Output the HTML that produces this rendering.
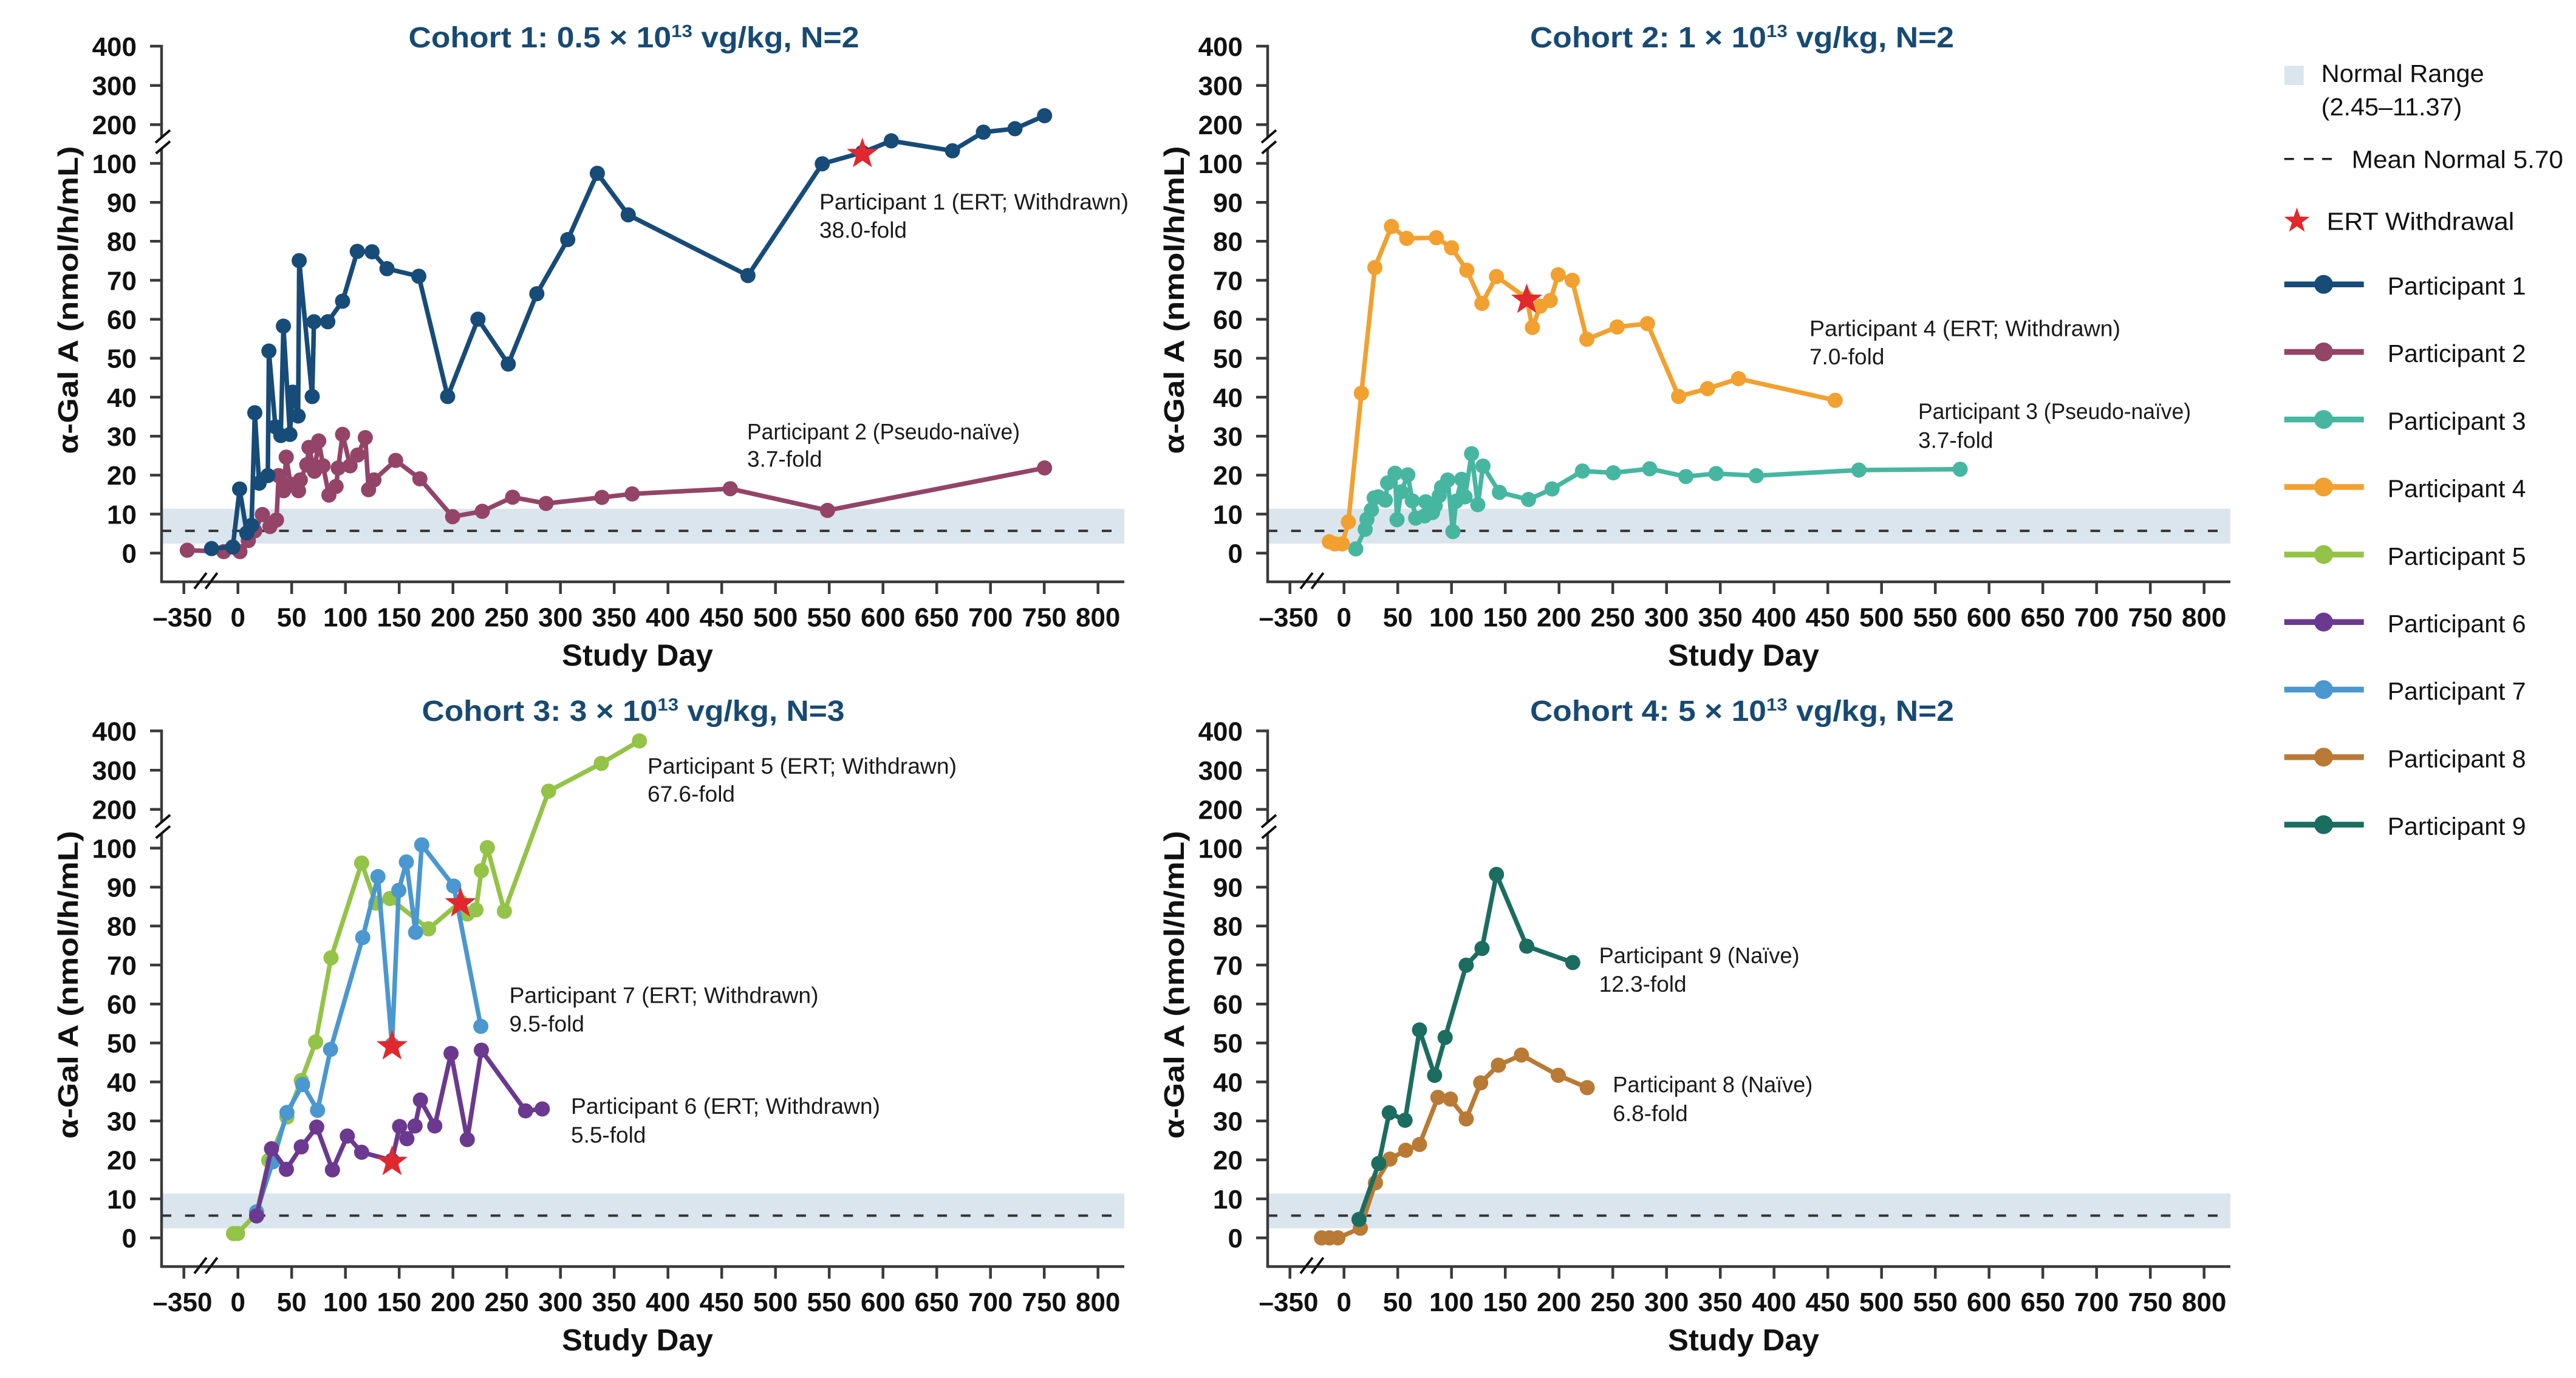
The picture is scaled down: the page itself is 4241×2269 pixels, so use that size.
<!DOCTYPE html>
<html>
<head>
<meta charset="utf-8">
<style>
html,body{margin:0;padding:0;background:#ffffff;}
svg{display:block;}
</style>
</head>
<body>
<svg xmlns="http://www.w3.org/2000/svg" width="4241" height="2269" viewBox="0 0 4241 2269" font-family="'Liberation Sans', Arial, sans-serif">
<defs>
  <marker id="mP1" viewBox="-16 -16 32 32" refX="0" refY="0" markerWidth="32" markerHeight="32" markerUnits="userSpaceOnUse"><circle r="12.5" fill="#174b78"/></marker>
  <marker id="mP2" viewBox="-16 -16 32 32" refX="0" refY="0" markerWidth="32" markerHeight="32" markerUnits="userSpaceOnUse"><circle r="12.5" fill="#934467"/></marker>
  <marker id="mP3" viewBox="-16 -16 32 32" refX="0" refY="0" markerWidth="32" markerHeight="32" markerUnits="userSpaceOnUse"><circle r="12.5" fill="#47b6a1"/></marker>
  <marker id="mP4" viewBox="-16 -16 32 32" refX="0" refY="0" markerWidth="32" markerHeight="32" markerUnits="userSpaceOnUse"><circle r="12.5" fill="#f2a02f"/></marker>
  <marker id="mP5" viewBox="-16 -16 32 32" refX="0" refY="0" markerWidth="32" markerHeight="32" markerUnits="userSpaceOnUse"><circle r="12.5" fill="#93c347"/></marker>
  <marker id="mP6" viewBox="-16 -16 32 32" refX="0" refY="0" markerWidth="32" markerHeight="32" markerUnits="userSpaceOnUse"><circle r="12.5" fill="#6b398f"/></marker>
  <marker id="mP7" viewBox="-16 -16 32 32" refX="0" refY="0" markerWidth="32" markerHeight="32" markerUnits="userSpaceOnUse"><circle r="12.5" fill="#4b97cf"/></marker>
  <marker id="mP8" viewBox="-16 -16 32 32" refX="0" refY="0" markerWidth="32" markerHeight="32" markerUnits="userSpaceOnUse"><circle r="12.5" fill="#b87a34"/></marker>
  <marker id="mP9" viewBox="-16 -16 32 32" refX="0" refY="0" markerWidth="32" markerHeight="32" markerUnits="userSpaceOnUse"><circle r="12.5" fill="#1b6d60"/></marker>
  <polygon id="star" fill="#e1282d" points="0,-27 6.35,-8.74 25.68,-8.34 10.27,3.34 15.87,21.84 0,10.8 -15.87,21.84 -10.27,3.34 -25.68,-8.34 -6.35,-8.74"/>
  <g id="ax">
    <rect x="266" y="837.7" width="1585" height="57.3" fill="#dbe5ee"/>
    <path d="M266 874.1 H1851" stroke="#333333" stroke-width="4" stroke-dasharray="16 22.7" fill="none"/>
    <path d="M247 76 H266 V226 M266 245 V958 H1851" stroke="#3a3a3a" stroke-width="4.5" fill="none" stroke-linejoin="miter"/>
    <path d="M247 140.7 H266 M247 205.3 H266 M247 269 H266 M247 333.2 H266 M247 397.3 H266 M247 461.5 H266 M247 525.7 H266 M247 589.9 H266 M247 654 H266 M247 718.2 H266 M247 782.4 H266 M247 846.5 H266 M247 910.7 H266" stroke="#3a3a3a" stroke-width="4.5" fill="none"/>
    <path d="M302.7 958 V978 M391.7 958 V978 M480.2 958 V978 M568.7 958 V978 M657.2 958 V978 M745.7 958 V978 M834.2 958 V978 M922.7 958 V978 M1011.2 958 V978 M1099.7 958 V978 M1188.2 958 V978 M1276.7 958 V978 M1365.2 958 V978 M1453.7 958 V978 M1542.2 958 V978 M1630.7 958 V978 M1719.2 958 V978 M1807.7 958 V978" stroke="#3a3a3a" stroke-width="4.5" fill="none"/>
    <path d="M256 235 L280 214.3 M256.7 252.7 L280 232.7 M320 969.3 L340 943.3 M338.3 969.3 L357.7 943.3" stroke="#111111" stroke-width="4" fill="none"/>
  </g>
</defs>

<!-- panel frames -->
<use href="#ax" x="0" y="0"/>
<use href="#ax" x="1821" y="0"/>
<use href="#ax" x="0" y="1127.5"/>
<use href="#ax" x="1821" y="1127.5"/>

<!-- panel texts (tick labels, axis titles) -->
<g transform="translate(0,0)">
  <g font-size="44" font-weight="bold" fill="#111111" text-anchor="end">
    <text x="225" y="91.8">400</text><text x="225" y="156.5">300</text><text x="225" y="221.1">200</text>
    <text x="225" y="284.8">100</text><text x="225" y="349">90</text><text x="225" y="413.1">80</text>
    <text x="225" y="477.3">70</text><text x="225" y="541.5">60</text><text x="225" y="605.7">50</text>
    <text x="225" y="669.8">40</text><text x="225" y="734">30</text><text x="225" y="798.2">20</text>
    <text x="225" y="862.3">10</text><text x="225" y="926.5">0</text>
  </g>
  <g font-size="44" font-weight="bold" fill="#111111" text-anchor="middle">
    <text x="300.5" y="1031.5">–350</text><text x="391.7" y="1031.5">0</text><text x="480.2" y="1031.5">50</text>
    <text x="568.7" y="1031.5">100</text><text x="657.2" y="1031.5">150</text><text x="745.7" y="1031.5">200</text>
    <text x="834.2" y="1031.5">250</text><text x="922.7" y="1031.5">300</text><text x="1011.2" y="1031.5">350</text>
    <text x="1099.7" y="1031.5">400</text><text x="1188.2" y="1031.5">450</text><text x="1276.7" y="1031.5">500</text>
    <text x="1365.2" y="1031.5">550</text><text x="1453.7" y="1031.5">600</text><text x="1542.2" y="1031.5">650</text>
    <text x="1630.7" y="1031.5">700</text><text x="1719.2" y="1031.5">750</text><text x="1807.7" y="1031.5">800</text>
  </g>
  <text x="1049.5" y="1096" font-size="50" font-weight="bold" fill="#111111" text-anchor="middle" textLength="249" lengthAdjust="spacingAndGlyphs">Study Day</text>
  <text transform="translate(112,494) rotate(-90)" font-size="46" font-weight="bold" fill="#111111" text-anchor="middle" dominant-baseline="central" textLength="507" lengthAdjust="spacingAndGlyphs">α-Gal A (nmol/h/mL)</text>
</g>

<g transform="translate(1821,0)">
  <g font-size="44" font-weight="bold" fill="#111111" text-anchor="end">
    <text x="225" y="91.8">400</text><text x="225" y="156.5">300</text><text x="225" y="221.1">200</text>
    <text x="225" y="284.8">100</text><text x="225" y="349">90</text><text x="225" y="413.1">80</text>
    <text x="225" y="477.3">70</text><text x="225" y="541.5">60</text><text x="225" y="605.7">50</text>
    <text x="225" y="669.8">40</text><text x="225" y="734">30</text><text x="225" y="798.2">20</text>
    <text x="225" y="862.3">10</text><text x="225" y="926.5">0</text>
  </g>
  <g font-size="44" font-weight="bold" fill="#111111" text-anchor="middle">
    <text x="300.5" y="1031.5">–350</text><text x="391.7" y="1031.5">0</text><text x="480.2" y="1031.5">50</text>
    <text x="568.7" y="1031.5">100</text><text x="657.2" y="1031.5">150</text><text x="745.7" y="1031.5">200</text>
    <text x="834.2" y="1031.5">250</text><text x="922.7" y="1031.5">300</text><text x="1011.2" y="1031.5">350</text>
    <text x="1099.7" y="1031.5">400</text><text x="1188.2" y="1031.5">450</text><text x="1276.7" y="1031.5">500</text>
    <text x="1365.2" y="1031.5">550</text><text x="1453.7" y="1031.5">600</text><text x="1542.2" y="1031.5">650</text>
    <text x="1630.7" y="1031.5">700</text><text x="1719.2" y="1031.5">750</text><text x="1807.7" y="1031.5">800</text>
  </g>
  <text x="1049.5" y="1096" font-size="50" font-weight="bold" fill="#111111" text-anchor="middle" textLength="249" lengthAdjust="spacingAndGlyphs">Study Day</text>
  <text transform="translate(112,494) rotate(-90)" font-size="46" font-weight="bold" fill="#111111" text-anchor="middle" dominant-baseline="central" textLength="507" lengthAdjust="spacingAndGlyphs">α-Gal A (nmol/h/mL)</text>
</g>

<g transform="translate(0,1127.5)">
  <g font-size="44" font-weight="bold" fill="#111111" text-anchor="end">
    <text x="225" y="91.8">400</text><text x="225" y="156.5">300</text><text x="225" y="221.1">200</text>
    <text x="225" y="284.8">100</text><text x="225" y="349">90</text><text x="225" y="413.1">80</text>
    <text x="225" y="477.3">70</text><text x="225" y="541.5">60</text><text x="225" y="605.7">50</text>
    <text x="225" y="669.8">40</text><text x="225" y="734">30</text><text x="225" y="798.2">20</text>
    <text x="225" y="862.3">10</text><text x="225" y="926.5">0</text>
  </g>
  <g font-size="44" font-weight="bold" fill="#111111" text-anchor="middle">
    <text x="300.5" y="1031.5">–350</text><text x="391.7" y="1031.5">0</text><text x="480.2" y="1031.5">50</text>
    <text x="568.7" y="1031.5">100</text><text x="657.2" y="1031.5">150</text><text x="745.7" y="1031.5">200</text>
    <text x="834.2" y="1031.5">250</text><text x="922.7" y="1031.5">300</text><text x="1011.2" y="1031.5">350</text>
    <text x="1099.7" y="1031.5">400</text><text x="1188.2" y="1031.5">450</text><text x="1276.7" y="1031.5">500</text>
    <text x="1365.2" y="1031.5">550</text><text x="1453.7" y="1031.5">600</text><text x="1542.2" y="1031.5">650</text>
    <text x="1630.7" y="1031.5">700</text><text x="1719.2" y="1031.5">750</text><text x="1807.7" y="1031.5">800</text>
  </g>
  <text x="1049.5" y="1096" font-size="50" font-weight="bold" fill="#111111" text-anchor="middle" textLength="249" lengthAdjust="spacingAndGlyphs">Study Day</text>
  <text transform="translate(112,494) rotate(-90)" font-size="46" font-weight="bold" fill="#111111" text-anchor="middle" dominant-baseline="central" textLength="507" lengthAdjust="spacingAndGlyphs">α-Gal A (nmol/h/mL)</text>
</g>

<g transform="translate(1821,1127.5)">
  <g font-size="44" font-weight="bold" fill="#111111" text-anchor="end">
    <text x="225" y="91.8">400</text><text x="225" y="156.5">300</text><text x="225" y="221.1">200</text>
    <text x="225" y="284.8">100</text><text x="225" y="349">90</text><text x="225" y="413.1">80</text>
    <text x="225" y="477.3">70</text><text x="225" y="541.5">60</text><text x="225" y="605.7">50</text>
    <text x="225" y="669.8">40</text><text x="225" y="734">30</text><text x="225" y="798.2">20</text>
    <text x="225" y="862.3">10</text><text x="225" y="926.5">0</text>
  </g>
  <g font-size="44" font-weight="bold" fill="#111111" text-anchor="middle">
    <text x="300.5" y="1031.5">–350</text><text x="391.7" y="1031.5">0</text><text x="480.2" y="1031.5">50</text>
    <text x="568.7" y="1031.5">100</text><text x="657.2" y="1031.5">150</text><text x="745.7" y="1031.5">200</text>
    <text x="834.2" y="1031.5">250</text><text x="922.7" y="1031.5">300</text><text x="1011.2" y="1031.5">350</text>
    <text x="1099.7" y="1031.5">400</text><text x="1188.2" y="1031.5">450</text><text x="1276.7" y="1031.5">500</text>
    <text x="1365.2" y="1031.5">550</text><text x="1453.7" y="1031.5">600</text><text x="1542.2" y="1031.5">650</text>
    <text x="1630.7" y="1031.5">700</text><text x="1719.2" y="1031.5">750</text><text x="1807.7" y="1031.5">800</text>
  </g>
  <text x="1049.5" y="1096" font-size="50" font-weight="bold" fill="#111111" text-anchor="middle" textLength="249" lengthAdjust="spacingAndGlyphs">Study Day</text>
  <text transform="translate(112,494) rotate(-90)" font-size="46" font-weight="bold" fill="#111111" text-anchor="middle" dominant-baseline="central" textLength="507" lengthAdjust="spacingAndGlyphs">α-Gal A (nmol/h/mL)</text>
</g>

<!-- titles -->
<g font-size="48" font-weight="bold" fill="#174a73" text-anchor="middle">
  <text x="1043.5" y="78" textLength="742" lengthAdjust="spacingAndGlyphs">Cohort 1: 0.5 × 10<tspan font-size="29" dy="-17">13</tspan><tspan dy="17"> vg/kg, N=2</tspan></text>
  <text x="2868" y="78" textLength="698" lengthAdjust="spacingAndGlyphs">Cohort 2: 1 × 10<tspan font-size="29" dy="-17">13</tspan><tspan dy="17"> vg/kg, N=2</tspan></text>
  <text x="1042.5" y="1187" textLength="696" lengthAdjust="spacingAndGlyphs">Cohort 3: 3 × 10<tspan font-size="29" dy="-17">13</tspan><tspan dy="17"> vg/kg, N=3</tspan></text>
  <text x="2868" y="1187" textLength="698" lengthAdjust="spacingAndGlyphs">Cohort 4: 5 × 10<tspan font-size="29" dy="-17">13</tspan><tspan dy="17"> vg/kg, N=2</tspan></text>
</g>

<!-- data series -->
<g fill="none" stroke-width="7.5" stroke-linejoin="round" stroke-linecap="round">
  <!-- Cohort 1 -->
  <polyline stroke="#934467" marker-start="url(#mP2)" marker-mid="url(#mP2)" marker-end="url(#mP2)" points="308.3,906 368.3,908.3 395,908.3 408.8,890.1 419.5,874 432,847.3 444.5,866.9 455.2,856.2 458.7,783.1 466.9,808 471.2,752.7 478.4,797.3 491.5,808 494.4,790.2 505.1,765.2 508.7,736.7 517.6,775.9 524.7,726 531.9,767 541.5,815.2 553.3,800.9 556.8,770.6 564,715.3 576.4,767 588.9,749.2 601.4,720.6 606.8,806.3 615.7,790.2 651.4,758.1 691.3,788.4 745.2,850.8 794,841.9 844,818.7 899,829 991,819 1040.8,813.3 1202.2,804.7 1362.4,840.4 1719.7,770.5"/>
  <polyline stroke="#174b78" marker-start="url(#mP1)" marker-mid="url(#mP1)" marker-end="url(#mP1)" points="348.3,903.3 383.3,900.7 394.5,805.2 406.3,877.6 414.1,865.1 419.5,679.6 426.6,795.6 440.9,783.1 442.7,578 453.4,702.8 462.3,717.1 466.6,537 477.3,715.3 481.9,645.7 490.8,685 492.6,429.2 514,652.9 516.9,529.8 539.7,529.8 564,495.9 588.2,413.9 612.5,414.6 637.1,442.4 689.5,454.9 737,652.9 786.9,525.5 836.8,599.4 883.8,483.7 934.7,394.5 983.4,285.4 1034.3,353.8 1231.4,453.7 1353.8,269.7 1419.8,251.1 1467.4,231.9 1568.1,248.3 1619,217.6 1671,211.9 1719.7,190.5"/>
  <!-- Cohort 2 -->
  <polyline stroke="#47b6a1" marker-start="url(#mP3)" marker-mid="url(#mP3)" marker-end="url(#mP3)" points="2232.1,903.8 2247.6,871.6 2250.5,855 2257.9,839.5 2262.4,819.9 2269,818.1 2280.8,823.6 2284.5,795.2 2296.7,779.3 2300,855.7 2306.7,809.9 2317.8,781.9 2325.1,824.7 2330.7,853.1 2345.5,849.5 2347.3,826.2 2358.4,843.9 2362.8,832.8 2369.5,816.2 2373.2,802.6 2383.5,790.4 2392,875.3 2397.2,825.4 2406.4,789.2 2412,818.1 2422.7,747.1 2433,831 2441.5,767.4 2468.5,810.7 2516.5,822.5 2555.3,805.1 2605.2,775.6 2656.1,778.5 2716,771.9 2775.5,784.7 2825.3,779.7 2891.4,783.3 3060.3,774 3227.1,772.6"/>
  <polyline stroke="#f2a02f" marker-start="url(#mP4)" marker-mid="url(#mP4)" marker-end="url(#mP4)" points="2188.5,892 2197.7,895.6 2209.9,895.6 2219.9,859.4 2241.3,647.4 2263.5,440.5 2290.8,372.9 2315.9,392.5 2364.7,391.4 2389.8,408 2414.9,445 2439.7,499.6 2463.7,455.3 2513.5,491.1 2522.8,539.2 2535.7,504.1 2552.3,494.8 2565.3,452.4 2588.5,461.6 2612.5,558.7 2662.4,538.4 2712.3,532.9 2763.6,652.8 2811.3,639.9 2862.2,623.5 3021.3,659.2"/>
  <!-- Cohort 3 -->
  <polyline stroke="#93c347" marker-start="url(#mP5)" marker-mid="url(#mP5)" marker-end="url(#mP5)" points="384.5,2031.1 391.2,2031.1 422.4,1997.6 442.5,1910.7 472.4,1839.3 496,1779.1 519.6,1715.8 545,1577.2 595.4,1421.1 618.6,1487.1 641.8,1479.5 705.6,1529.4 758.2,1484.9 769.3,1504.9 783.6,1498.2 792.5,1433.6 802.3,1395.7 830.4,1500.5 903.3,1302.7 989.9,1257 1052.7,1220"/>
  <polyline stroke="#4b97cf" marker-start="url(#mP7)" marker-mid="url(#mP7)" marker-end="url(#mP7)" points="422.4,1995.4 449.2,1912.9 472.4,1831.8 498.2,1785.8 522.8,1828.2 544.2,1727.9 597.2,1543.7 622.2,1443.4 645.4,1720.3 656.5,1466.1 669,1419.3 684.2,1535.2 694.4,1391.2 747,1459 791.6,1690"/>
  <polyline stroke="#6b398f" marker-start="url(#mP6)" marker-mid="url(#mP6)" marker-end="url(#mP6)" points="422.4,2002.1 447,1891.5 471.5,1925.4 496,1888.4 521.4,1855.8 547.3,1926.3 571.8,1870.6 595.4,1897.3 645.4,1910.7 657.9,1854.9 669.9,1875 683.3,1854 692.2,1811.3 715.8,1854 742.6,1734.6 769.3,1876.4 792.5,1729.2 865.2,1829.1 892.8,1826"/>
  <!-- Cohort 4 -->
  <polyline stroke="#b87a34" marker-start="url(#mP8)" marker-mid="url(#mP8)" marker-end="url(#mP8)" points="2175.7,2038.3 2188.7,2038.3 2202.7,2038.3 2239.6,2022.4 2264.5,1947.6 2288.3,1908.5 2314.3,1894 2337,1884.5 2367.3,1806.9 2387.9,1809.8 2413.9,1842.4 2437.7,1783 2466.9,1753.9 2504.8,1737.2 2565.5,1770.6 2613.1,1790.9"/>
  <polyline stroke="#1b6d60" marker-start="url(#mP9)" marker-mid="url(#mP9)" marker-end="url(#mP9)" points="2237.4,2007.9 2269.9,1915.7 2287.2,1832.3 2313.2,1844.6 2337,1695.9 2361.9,1770.6 2379.2,1708.2 2413.9,1589.2 2439.9,1561.7 2463.7,1439.8 2513.5,1558 2589.3,1584.9"/>
</g>

<!-- ERT withdrawal stars -->
<use href="#star" x="1419.8" y="253.7"/>
<use href="#star" x="2513.5" y="493.7"/>
<use href="#star" x="645.4" y="1722.9"/>
<use href="#star" x="645.4" y="1913.3"/>
<use href="#star" x="758.2" y="1487.5"/>

<!-- annotations -->
<g font-size="37" fill="#1a1a1a">
  <text x="1349" y="345.2" textLength="509" lengthAdjust="spacingAndGlyphs">Participant 1 (ERT; Withdrawn)</text>
  <text x="1349" y="391.5">38.0-fold</text>
  <text x="1230" y="723.3" textLength="449" lengthAdjust="spacingAndGlyphs">Participant 2 (Pseudo-naïve)</text>
  <text x="1230" y="768.3">3.7-fold</text>

  <text x="2979" y="553.5" textLength="512" lengthAdjust="spacingAndGlyphs">Participant 4 (ERT; Withdrawn)</text>
  <text x="2979" y="600">7.0-fold</text>
  <text x="3158" y="689.8" textLength="449" lengthAdjust="spacingAndGlyphs">Participant 3 (Pseudo-naïve)</text>
  <text x="3158" y="737.5">3.7-fold</text>

  <text x="1066" y="1274" textLength="509" lengthAdjust="spacingAndGlyphs">Participant 5 (ERT; Withdrawn)</text>
  <text x="1066" y="1320">67.6-fold</text>
  <text x="838.5" y="1651.3" textLength="509" lengthAdjust="spacingAndGlyphs">Participant 7 (ERT; Withdrawn)</text>
  <text x="838.5" y="1698.5">9.5-fold</text>
  <text x="940" y="1834.2" textLength="509" lengthAdjust="spacingAndGlyphs">Participant 6 (ERT; Withdrawn)</text>
  <text x="940" y="1881.3">5.5-fold</text>

  <text x="2632.6" y="1586" textLength="330" lengthAdjust="spacingAndGlyphs">Participant 9 (Naïve)</text>
  <text x="2632.6" y="1633">12.3-fold</text>
  <text x="2655.3" y="1798.6" textLength="329" lengthAdjust="spacingAndGlyphs">Participant 8 (Naïve)</text>
  <text x="2655.3" y="1845.8">6.8-fold</text>
</g>

<!-- legend -->
<rect x="3760.7" y="108.3" width="32" height="31.7" fill="#dbe5ee"/>
<path d="M3760.7 261.7 H3776.7 M3793 261.7 H3809 M3823 261.7 H3839" stroke="#222222" stroke-width="3.5" fill="none"/>
<use href="#star" transform="translate(3781.5,363.8) scale(0.815)"/>
<g stroke-width="9.5" fill="none">
  <path d="M3760.7 468.3 H3891.7" stroke="#174b78"/>
  <path d="M3760.7 579.5 H3891.7" stroke="#934467"/>
  <path d="M3760.7 690.7 H3891.7" stroke="#47b6a1"/>
  <path d="M3760.7 801.9 H3891.7" stroke="#f2a02f"/>
  <path d="M3760.7 913.1 H3891.7" stroke="#93c347"/>
  <path d="M3760.7 1024.3 H3891.7" stroke="#6b398f"/>
  <path d="M3760.7 1135.5 H3891.7" stroke="#4b97cf"/>
  <path d="M3760.7 1246.7 H3891.7" stroke="#b87a34"/>
  <path d="M3760.7 1357.9 H3891.7" stroke="#1b6d60"/>
</g>
<circle cx="3825.5" cy="468.3" r="15.5" fill="#174b78"/>
<circle cx="3825.5" cy="579.5" r="15.5" fill="#934467"/>
<circle cx="3825.5" cy="690.7" r="15.5" fill="#47b6a1"/>
<circle cx="3825.5" cy="801.9" r="15.5" fill="#f2a02f"/>
<circle cx="3825.5" cy="913.1" r="15.5" fill="#93c347"/>
<circle cx="3825.5" cy="1024.3" r="15.5" fill="#6b398f"/>
<circle cx="3825.5" cy="1135.5" r="15.5" fill="#4b97cf"/>
<circle cx="3825.5" cy="1246.7" r="15.5" fill="#b87a34"/>
<circle cx="3825.5" cy="1357.9" r="15.5" fill="#1b6d60"/>
<g font-size="41" fill="#111111">
  <text x="3821.7" y="135" textLength="268" lengthAdjust="spacingAndGlyphs">Normal Range</text>
  <text x="3821.7" y="190" textLength="231.6" lengthAdjust="spacingAndGlyphs">(2.45–11.37)</text>
  <text x="3871.7" y="276.7" textLength="348.3" lengthAdjust="spacingAndGlyphs">Mean Normal 5.70</text>
  <text x="3830.7" y="378.3" textLength="308.6" lengthAdjust="spacingAndGlyphs">ERT Withdrawal</text>
  <text x="3930.7" y="485">Participant 1</text>
  <text x="3930.7" y="596.2">Participant 2</text>
  <text x="3930.7" y="707.4">Participant 3</text>
  <text x="3930.7" y="818.6">Participant 4</text>
  <text x="3930.7" y="929.8">Participant 5</text>
  <text x="3930.7" y="1041">Participant 6</text>
  <text x="3930.7" y="1152.2">Participant 7</text>
  <text x="3930.7" y="1263.4">Participant 8</text>
  <text x="3930.7" y="1374.6">Participant 9</text>
</g>
</svg>
</body>
</html>
